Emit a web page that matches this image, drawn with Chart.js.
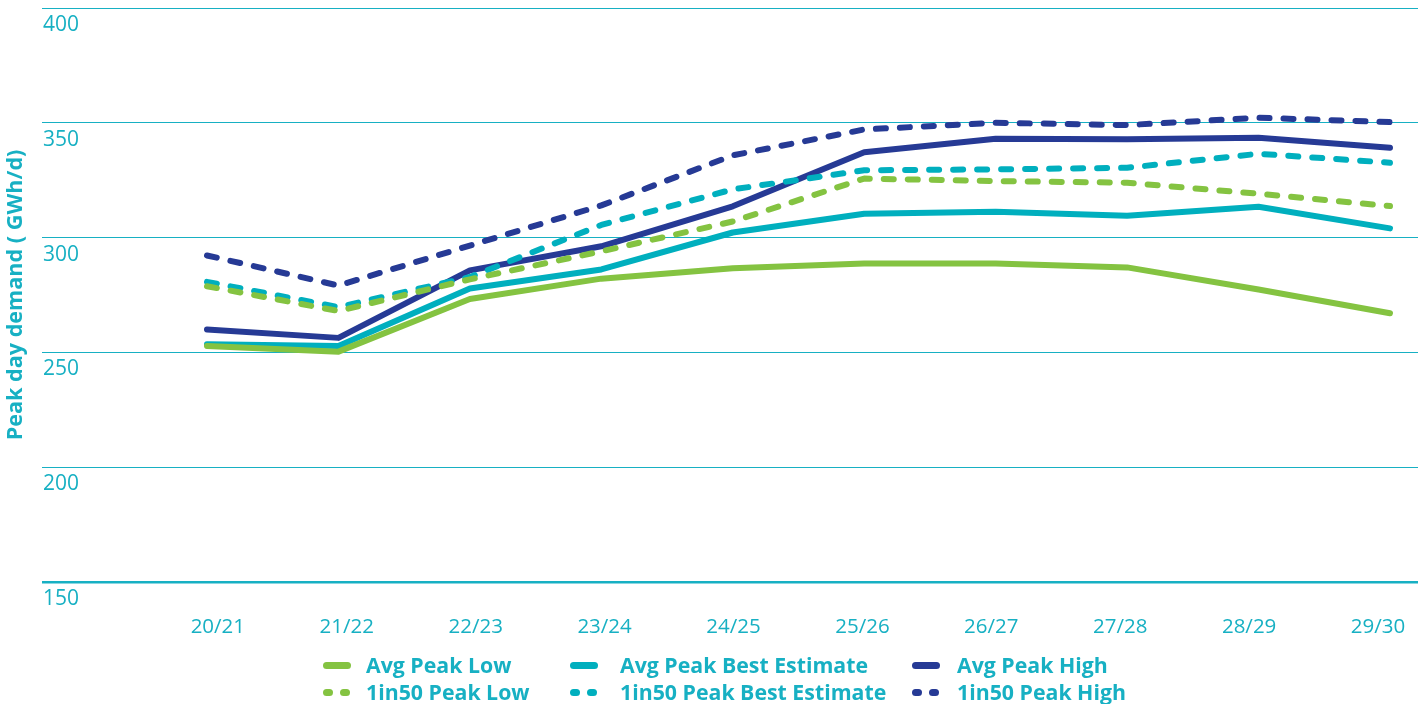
<!DOCTYPE html>
<html>
<head>
<meta charset="utf-8">
<script src="https://cdn.jsdelivr.net/npm/chart.js@4.4.1/dist/chart.umd.min.js"></script>
<style>
    html, body { margin: 0; padding: 0; background: #fff; overflow: hidden; }
    #wrap { position: relative; width: 1426px; height: 704px; }
    #wrap canvas { display: block; }
    #legend { position: absolute; left: 0; top: 645px; width: 1426px; height: 59px; font-family: "Open Sans", sans-serif; font-weight: 700; font-size: 21.3px; color: #17b0c3; }
    .mk { position: absolute; height: 7px; }
    .mk span { position: absolute; top: 0; height: 7px; border-radius: 4px; }
    .txt { position: absolute; line-height: 24px; white-space: nowrap; }
</style>
</head>
<body>
<div id="wrap">
    <canvas id="demandChart" width="1426" height="704"></canvas>
    <div id="legend"></div>
</div>
<script>
    // Peak day demand forecasts (GWh/d)
    const years = ['20/21', '21/22', '22/23', '23/24', '24/25', '25/26', '26/27', '27/28', '28/29', '29/30'];
    const avgPeakLow = [252.8, 250.3, 273.2, 282.1, 286.6, 288.7, 288.7, 287.0, 277.4, 267.0];
    const avgPeakBest = [253.5, 252.8, 277.8, 286.1, 302.2, 310.4, 311.2, 309.5, 313.4, 304.0];
    const avgPeakHigh = [260.0, 256.3, 285.7, 296.2, 313.6, 337.2, 343.0, 342.8, 343.5, 339.1];
    const peak1in50Low = [278.8, 268.0, 281.8, 294.0, 307.0, 325.7, 324.6, 323.9, 319.1, 313.7];
    const peak1in50Best = [280.7, 269.7, 282.8, 305.5, 321.0, 329.3, 329.7, 330.4, 336.5, 332.6];
    const peak1in50High = [292.2, 279.1, 296.5, 314.0, 335.8, 347.1, 350.0, 349.0, 352.2, 350.3];
    const yTicks = [150, 200, 250, 300, 350, 400];

    const green = '#84c341';
    const teal = '#00afbe';
    const navy = '#263a95';
    const textTeal = '#17b0c3';

    const toPoints = arr => arr.map((v, i) => ({ x: i, y: v }));

    const series = [
        { label: 'Avg Peak Low', data: avgPeakLow, color: green, dashed: false },
        { label: 'Avg Peak Best Estimate', data: avgPeakBest, color: teal, dashed: false },
        { label: 'Avg Peak High', data: avgPeakHigh, color: navy, dashed: false },
        { label: '1in50 Peak Low', data: peak1in50Low, color: green, dashed: true },
        { label: '1in50 Peak Best Estimate', data: peak1in50Best, color: teal, dashed: true },
        { label: '1in50 Peak High', data: peak1in50High, color: navy, dashed: true }
    ];

    // draw order: dashed behind solid like the original
    const drawOrder = [3, 4, 5, 0, 1, 2];

    const ctx = document.getElementById('demandChart').getContext('2d');
    new Chart(ctx, {
        type: 'line',
        data: {
            datasets: drawOrder.map(i => {
                const s = series[i];
                return {
                    label: s.label,
                    data: toPoints(s.data),
                    borderColor: s.color,
                    backgroundColor: s.color,
                    borderWidth: 6,
                    borderDash: s.dashed ? [10, 14] : [],
                    borderCapStyle: 'round',
                    borderJoinStyle: 'round',
                    pointRadius: 0,
                    tension: 0,
                    fill: false
                };
            })
        },
        options: {
            responsive: false,
            animation: false,
            layout: { padding: { top: 8, right: 8, bottom: 62.5, left: 0 } },
            scales: {
                // data axis: points sit a bit wider apart than the year labels
                x: {
                    type: 'linear',
                    display: false,
                    min: -1.255,
                    max: 9.213
                },
                xl: {
                    type: 'linear',
                    position: 'bottom',
                    min: -1.364,
                    max: 9.31,
                    afterBuildTicks: scale => {
                        scale.ticks = years.map((_, i) => ({ value: i }));
                    },
                    grid: { display: false, drawTicks: true, tickLength: 30 },
                    border: { display: false },
                    ticks: {
                        autoSkip: false,
                        maxRotation: 0,
                        padding: 2.5,
                        color: textTeal,
                        font: { family: 'Open Sans', size: 20.5 },
                        callback: value => years[value] ?? ''
                    }
                },
                y: {
                    min: 150,
                    max: 400,
                    afterBuildTicks: scale => {
                        scale.ticks = yTicks.map(v => ({ value: v }));
                    },
                    grid: {
                        color: textTeal,
                        lineWidth: c => (c.tick && c.tick.value === 150 ? 2.5 : 1),
                        drawTicks: false
                    },
                    border: { display: false },
                    ticks: {
                        mirror: true,
                        padding: 1,
                        labelOffset: 17,
                        color: textTeal,
                        font: { family: 'Open Sans', size: 21, lineHeight: 0.5 }
                    },
                    title: {
                        display: true,
                        text: 'Peak day demand ( GWh/d)',
                        color: textTeal,
                        padding: { top: 2.7, bottom: 11.4 },
                        font: { family: 'Open Sans', size: 21.6, weight: 'bold', lineHeight: 1.2 }
                    }
                }
            },
            plugins: {
                legend: { display: false },
                tooltip: { enabled: false }
            }
        }
    });

    // legend laid out as 3 columns x 2 rows, like the original
    const colMarker = [323, 570, 912];
    const colText = [366, 620, 957];
    const rowTop = [8, 35];
    const legend = document.getElementById('legend');
    series.forEach((s, i) => {
        const col = i % 3;
        const row = Math.floor(i / 3);
        const mk = document.createElement('div');
        mk.className = 'mk';
        mk.style.left = colMarker[col] + 'px';
        mk.style.top = (rowTop[row] + 9) + 'px';
        if (s.dashed) {
            mk.innerHTML = '<span style="left:0;width:10px;background:' + s.color + '"></span>' +
                           '<span style="left:17px;width:10px;background:' + s.color + '"></span>';
        } else {
            mk.innerHTML = '<span style="left:0;width:28px;background:' + s.color + '"></span>';
        }
        legend.appendChild(mk);
        const t = document.createElement('div');
        t.className = 'txt';
        t.style.left = colText[col] + 'px';
        t.style.top = rowTop[row] + 'px';
        t.textContent = s.label;
        legend.appendChild(t);
    });
</script>
</body>
</html>
